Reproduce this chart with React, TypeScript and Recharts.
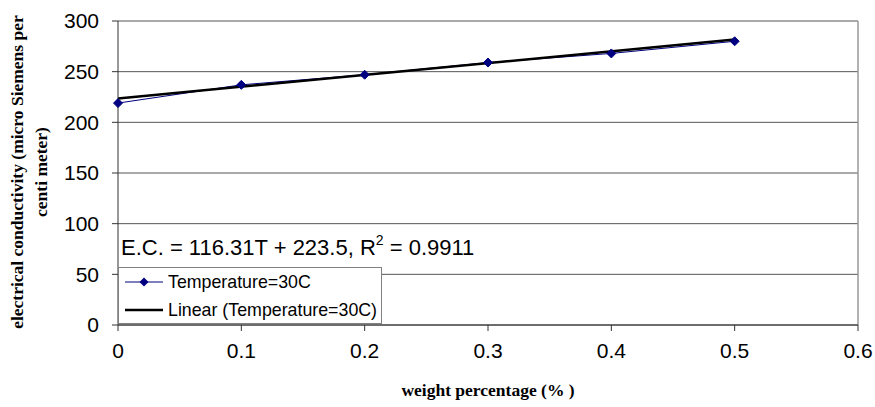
import React from "react";
import {
  ComposedChart,
  Line,
  XAxis,
  YAxis,
  CartesianGrid,
  Legend,
  ReferenceLine,
} from "recharts";

// weight percentage (%)
const weights = [0, 0.1, 0.2, 0.3, 0.4, 0.5];
// conductivity at 30C
const conductivity = [219, 237, 247, 259, 268, 280];
// linear trendline end points (E.C. = 116.31T + 223.5)
const trendX = [0, 0.5];
const trendY = [223.5, 281.7];

const xTicks = [0, 0.1, 0.2, 0.3, 0.4, 0.5, 0.6];
const yTicks = [0, 50, 100, 150, 200, 250, 300];

const SERIES = "Temperature=30C";
const TREND = "Linear (Temperature=30C)";

const ARIAL = "'Liberation Sans', Arial, sans-serif";
const TIMES = "'Liberation Serif', 'Times New Roman', serif";

const data = weights.map((w, i) => ({ w, ec: conductivity[i] }));
const trendData = trendX.map((w, i) => ({ w, trend: trendY[i] }));

function Diamond(props: any) {
  const { cx, cy } = props;
  if (cx == null || cy == null) return null;
  const r = 4.5;
  return (
    <polygon
      points={`${cx},${cy - r} ${cx + r},${cy} ${cx},${cy + r} ${cx - r},${cy}`}
      fill="#000080"
      stroke="#000080"
    />
  );
}

// axis titles sit at fixed spots, same as the original sheet
function YTitle() {
  const cy = 172;
  return (
    <g fontFamily={TIMES} fontWeight="bold" fontSize={17.5} fill="#000">
      <text x={17} y={cy} transform={`rotate(-90, 17, ${cy})`} textAnchor="middle" dominantBaseline="central">
        electrical conductivity (micro Siemens per
      </text>
      <text x={41} y={cy} transform={`rotate(-90, 41, ${cy})`} textAnchor="middle" dominantBaseline="central">
        centi meter)
      </text>
    </g>
  );
}

function XTitle() {
  return (
    <text x={488} y={390} textAnchor="middle" dominantBaseline="central" fontFamily={TIMES} fontWeight="bold" fontSize={17.5} fill="#000">
      weight percentage (% )
    </text>
  );
}

function LegendBox() {
  return (
    <div
      style={{
        width: 262,
        height: 55,
        border: "1px solid #808080",
        background: "#fff",
        fontFamily: ARIAL,
        fontSize: 17.8,
        color: "#000",
        boxSizing: "content-box",
        textAlign: "left",
      }}
    >
      <div style={{ display: "flex", alignItems: "center", height: 28, paddingLeft: 6 }}>
        <svg width={40} height={12} style={{ marginRight: 3 }}>
          <line x1={0} y1={6} x2={38} y2={6} stroke="#000080" strokeWidth={1} />
          <polygon points="19,1.5 23.5,6 19,10.5 14.5,6" fill="#000080" />
        </svg>
        {SERIES}
      </div>
      <div style={{ display: "flex", alignItems: "center", height: 28, paddingLeft: 6 }}>
        <svg width={40} height={12} style={{ marginRight: 3 }}>
          <line x1={0} y1={6} x2={38} y2={6} stroke="#000" strokeWidth={2.5} />
        </svg>
        {TREND}
      </div>
    </div>
  );
}

export default function App() {
  return (
    <div style={{ position: "absolute", left: 0, top: 0, width: 875, height: 407, background: "#fff" }}>
      <ComposedChart
        width={875}
        height={407}
        margin={{ top: 21, right: 17, bottom: 52, left: 0 }}
      >
        <CartesianGrid horizontal vertical={false} stroke="#555" strokeWidth={1} />
        <XAxis
          dataKey="w"
          type="number"
          domain={[0, 0.6]}
          ticks={xTicks}
          allowDuplicatedCategory={false}
          height={30}
          tick={{ fontFamily: ARIAL, fontSize: 21, fill: "#000" }}
          tickSize={6}
          tickMargin={12}
          stroke="#333"
          label={{ content: XTitle }}
        />
        <YAxis
          type="number"
          domain={[0, 300]}
          ticks={yTicks}
          width={118}
          tick={{ fontFamily: ARIAL, fontSize: 21, fill: "#000" }}
          tickSize={6}
          tickMargin={13}
          stroke="#333"
          label={{ content: YTitle }}
        />
        <ReferenceLine x={0.6} stroke="#999" strokeWidth={1.5} />
        <Legend
          content={LegendBox}
          layout="horizontal"
          verticalAlign="middle"
          align="center"
          wrapperStyle={{ left: 118, top: 267, width: 264 }}
        />
        <Line
          data={data}
          dataKey="ec"
          name={SERIES}
          stroke="#000080"
          strokeWidth={1}
          dot={<Diamond />}
          activeDot={false}
          isAnimationActive={false}
        />
        <Line
          data={trendData}
          dataKey="trend"
          name={TREND}
          stroke="#000"
          strokeWidth={2.5}
          dot={false}
          activeDot={false}
          isAnimationActive={false}
        />
      </ComposedChart>
      <div
        style={{
          position: "absolute",
          left: 121,
          top: 234,
          fontFamily: ARIAL,
          fontSize: 22,
          color: "#000",
          whiteSpace: "nowrap",
          lineHeight: "28px",
        }}
      >
        E.C. = 116.31T + 223.5, R<sup style={{ fontSize: 14, verticalAlign: "top", lineHeight: "12px" }}>2</sup> = 0.9911
      </div>
    </div>
  );
}
